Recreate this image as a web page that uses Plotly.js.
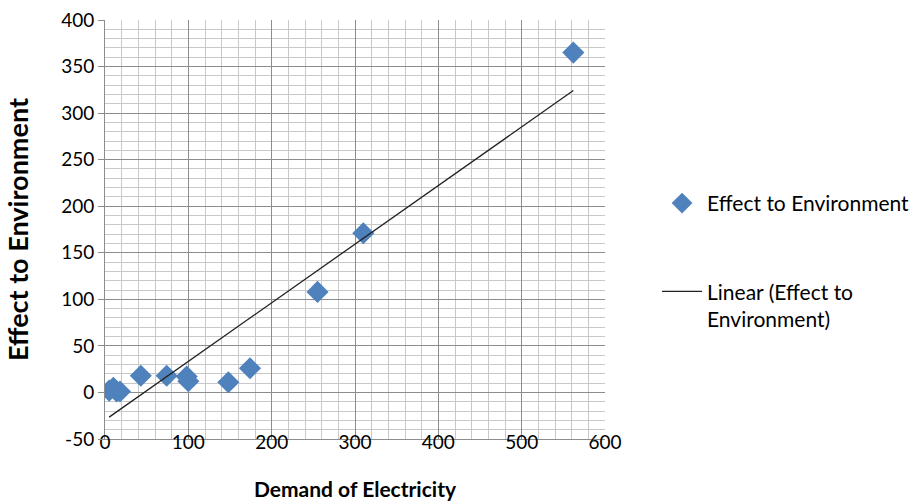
<!DOCTYPE html>
<html>
<head>
<meta charset="utf-8">
<script src="https://cdn.plot.ly/plotly-3.0.1.min.js"></script>
<style>html,body{margin:0;padding:0;background:#fff;}#chart{width:921px;height:504px;}</style>
</head>
<body>
<div id="chart"></div>
<script>
// Data
const demandOfElectricity = [5, 10, 14, 18, 43, 74, 98, 100, 148, 174, 255, 310, 562];
const effectToEnvironment = [2, 5, 1, 1, 18, 18, 17, 12, 11, 26, 108, 171, 365];
const seriesName = "Effect to Environment";
const trendName = "Linear (Effect to<br>Environment)";
const yTickValues = [-50, 0, 50, 100, 150, 200, 250, 300, 350, 400];
const yTickLabels = ["-50", "0", "50", "100", "150", "200", "250", "300", "350", "400"];

// Least-squares linear trendline (as Excel draws it)
function linearFit(xs, ys) {
  const n = xs.length;
  const mx = xs.reduce((a, b) => a + b, 0) / n;
  const my = ys.reduce((a, b) => a + b, 0) / n;
  let sxy = 0, sxx = 0;
  for (let i = 0; i < n; i++) { sxy += (xs[i] - mx) * (ys[i] - my); sxx += (xs[i] - mx) ** 2; }
  const m = sxy / sxx;
  return { m: m, b: my - m * mx };
}
const fit = linearFit(demandOfElectricity, effectToEnvironment);
const xMin = Math.min(...demandOfElectricity), xMax = Math.max(...demandOfElectricity);
const trendX = [xMin, xMax];
const trendY = trendX.map(x => fit.m * x + fit.b);

const font = "Lato, 'Open Sans', sans-serif";

const traces = [
  {
    x: demandOfElectricity, y: effectToEnvironment, type: "scatter", mode: "markers",
    name: seriesName, legendgroup: "a",
    marker: { symbol: "diamond", size: 17, color: "#4F81BD", line: { width: 0 } }
  },
  {
    x: trendX, y: trendY, type: "scatter", mode: "lines",
    name: trendName, legendgroup: "b",
    line: { color: "#222", width: 1.3 }
  }
];

const layout = {
  width: 921, height: 504,
  margin: { l: 105, r: 316, t: 20, b: 65, autoexpand: false },
  paper_bgcolor: "#fff", plot_bgcolor: "#fff",
  font: { family: font, color: "#000", size: 19 },
  showlegend: true,
  legend: {
    xref: "container", yref: "container",
    x: 0.7134, y: 0.637, xanchor: "left", yanchor: "top", valign: "top",
    font: { family: font, size: 21, color: "#000" },
    traceorder: "grouped", tracegroupgap: 58, itemwidth: 40
  },
  xaxis: {
    range: [0, 600], dtick: 100, tick0: 0,
    showgrid: true, gridcolor: "#8c8c8c", gridwidth: 1,
    minor: { dtick: 20, showgrid: true, gridcolor: "#c8c8c8", gridwidth: 1 },
    zeroline: false, showline: true, linecolor: "#8c8c8c", linewidth: 1,
    ticks: "", ticklabelstandoff: -14,
    tickfont: { family: font, size: 19 },
    title: { text: "<b>Demand of Electricity</b>", font: { family: font, size: 21 }, standoff: 30 }
  },
  yaxis: {
    range: [-50, 400], tickmode: "array", tickvals: yTickValues, ticktext: yTickLabels,
    showgrid: true, gridcolor: "#8c8c8c", gridwidth: 1,
    minor: { dtick: 10, tick0: 0, showgrid: true, gridcolor: "#c8c8c8", gridwidth: 1 },
    zeroline: false, showline: true, linecolor: "#8c8c8c", linewidth: 1,
    ticks: "outside", ticklen: 6, tickcolor: "#8c8c8c",
    tickfont: { family: font, size: 19 },
    title: { text: "<b>Effect to Environment</b>", font: { family: font, size: 27 }, standoff: 24 }
  }
};

Plotly.newPlot("chart", traces, layout, { displayModeBar: false, staticPlot: true });
</script>
</body>
</html>
